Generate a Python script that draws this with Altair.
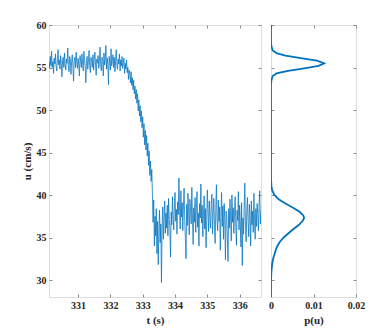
import altair as alt
import pandas as pd

# ---- data ----
t_start = 330.10
t_step = 0.02
u_series = [
    # 330.10 - 330.58
    55.8, 54.9, 56.3, 55.2, 56.9, 55.0, 55.7, 54.3, 56.1, 55.4, 56.6, 55.1, 54.6, 56.0, 57.1, 55.3, 55.9, 54.8, 56.4, 55.6, 53.9, 55.8, 56.2, 55.0, 56.7,
    # 330.60 - 331.08
    55.4, 54.7, 56.0, 55.5, 57.3, 55.2, 54.5, 56.3, 55.9, 54.2, 55.7, 56.5, 55.1, 53.4, 55.8, 56.2, 55.0, 56.8, 55.6, 54.9, 56.1, 55.3, 54.0, 56.4, 55.7,
    # 331.10 - 331.58
    55.0, 56.6, 55.4, 54.6, 56.9, 55.8, 55.1, 53.2, 55.9, 56.3, 54.8, 55.6, 57.0, 55.2, 54.4, 56.2, 55.7, 55.0, 56.5, 54.7, 55.9, 56.8, 55.3, 54.1, 56.0,
    # 331.60 - 332.08
    55.5, 56.4, 54.9, 55.8, 57.4, 55.1, 54.6, 56.2, 55.7, 54.0, 56.7, 55.3, 55.9, 57.6, 54.8, 56.1, 55.4, 53.0, 56.3, 55.6, 54.7, 57.2, 55.2, 55.8, 56.5,
    # 332.10 - 332.58
    55.0, 56.2, 54.5, 55.7, 57.1, 55.3, 54.8, 56.0, 55.4, 56.6, 54.6, 55.9, 55.2, 56.3, 54.9, 55.6, 56.1, 54.3, 55.5, 54.8, 55.9, 54.4, 55.0, 53.6, 54.7,
    # 332.60 - 333.08
    54.3, 53.2, 54.5, 52.9, 53.8, 52.4, 53.5, 51.9, 52.8, 51.3, 52.4, 50.8, 51.9, 49.9, 51.2, 49.3, 50.5, 48.6, 49.9, 47.9, 49.2, 46.8, 48.4, 45.9, 47.6,
    # 333.10 - 333.58
    45.3, 47.0, 44.6, 46.1, 43.5, 45.2, 42.3, 44.0, 41.6, 43.0, 40.1, 36.8, 39.4, 34.0, 37.5, 35.2, 38.4, 33.1, 36.9, 31.8, 35.7, 38.2, 34.4, 36.6, 29.7,
    # 333.60 - 334.08
    36.4, 38.6, 34.8, 37.2, 39.3, 35.5, 37.9, 36.1, 38.8, 35.2, 39.6, 37.1, 36.3, 32.7, 38.0, 36.5, 39.8, 37.5, 35.9, 38.7, 40.3, 36.9, 38.3, 35.4, 39.2,
    # 334.10 - 334.58
    37.7, 42.0, 38.2, 36.0, 40.5, 37.4, 39.1, 35.8, 38.6, 40.8, 37.0, 34.9, 32.5, 38.9, 36.4, 40.2, 37.8, 35.3, 39.5, 38.1, 36.6, 40.9, 37.2, 34.2, 38.5,
    # 334.60 - 335.08
    36.8, 39.7, 35.6, 38.3, 40.4, 36.2, 37.9, 34.0, 39.0, 37.3, 41.3, 36.7, 38.8, 35.1, 37.6, 39.9, 36.0, 38.4, 33.8, 37.1, 40.6, 38.0, 35.7, 39.3, 37.4,
    # 335.10 - 335.58
    36.1, 38.9, 40.1, 35.4, 37.8, 39.6, 36.5, 34.3, 38.2, 41.2, 37.0, 35.8, 39.4, 36.9, 38.6, 33.5, 37.5, 40.3, 36.3, 38.7, 34.8, 39.0, 37.2, 32.4, 38.1,
    # 335.60 - 336.08
    37.6, 35.0, 32.2, 38.4, 36.1, 39.5, 37.3, 34.6, 40.0, 36.8, 38.5, 35.5, 37.9, 39.8, 36.4, 34.1, 38.2, 37.0, 40.4, 35.9, 38.8, 36.6, 33.9, 39.1, 31.7,
    # 336.10 - 336.66
    37.3, 35.4, 38.6, 41.4, 36.2, 34.5, 38.0, 39.7, 36.9, 35.1, 38.9, 37.4, 34.0, 39.3, 36.5, 38.1, 35.6, 40.2, 37.0, 34.8, 38.4, 36.3, 39.0, 37.7, 35.8, 38.8, 40.5, 36.6, 38.2,
]

pdf_u = [28.0, 30.0, 31.0, 32.0, 32.5, 33.0, 33.5, 34.0, 34.5, 35.0, 35.5, 36.0, 36.5, 37.0, 37.3,
         37.6, 38.0, 38.5, 39.0, 39.5, 40.0, 40.5, 41.0, 42.0, 50.0, 53.0, 53.5, 54.0, 54.3, 54.6,
         54.9, 55.2, 55.5, 55.8, 56.1, 56.4, 56.7, 57.0, 57.5, 58.0, 60.0]
pdf_p = [0.0000, 0.0000, 0.0001, 0.0003, 0.0005, 0.0008, 0.0011, 0.0015, 0.0021, 0.0030, 0.0041, 0.0053, 0.0066, 0.0075, 0.0078,
         0.0076, 0.0068, 0.0052, 0.0034, 0.0018, 0.0008, 0.0003, 0.0001, 0.0000, 0.0000, 0.0000, 0.0001, 0.0004, 0.0013, 0.0040,
         0.0078, 0.0112, 0.0125, 0.0108, 0.0070, 0.0034, 0.0013, 0.0004, 0.0001, 0.0000, 0.0000]

t_ticks = [331, 332, 333, 334, 335, 336]
u_ticks = [30, 35, 40, 45, 50, 55, 60]
p_ticks = [0, 0.01, 0.02]

t_values = [round(t_start + i * t_step, 2) for i in range(len(u_series))]
ts = pd.DataFrame({"t": t_values, "u": u_series})
pdf = pd.DataFrame({"u": pdf_u, "p": pdf_p})

FONT = "Times New Roman, Liberation Serif, serif"
BLUE = "#0072BD"
GRAY = "#8c8c8c"
TXT = "#262626"
TICK_IN = {"expr": "-3"}


def ax(orient, values, title=None, labels=True, fmt=None):
    kw = dict(
        orient=orient, values=values, labels=labels, domain=False,
        ticks=True, tickSize=TICK_IN, tickColor=GRAY, tickWidth=1,
        grid=False, labelFont=FONT, labelFontWeight="bold", labelFontSize=10,
        labelColor=TXT, labelPadding=6, labelFlush=False, labelOverlap=False,
        titleFont=FONT, titleFontWeight="bold",
        titleFontSize=11, titleColor=TXT,
    )
    if fmt is not None:
        kw["format"] = fmt
    kw["title"] = title if title is not None else None
    return alt.Axis(**kw)


xs = alt.Scale(domain=[330.1, 336.66], nice=False, zero=False)
ys = alt.Scale(domain=[28, 60], nice=False, zero=False)
ps = alt.Scale(domain=[0, 0.02], nice=False, zero=False)

main = alt.Chart(ts).mark_line(color=BLUE, strokeWidth=0.75, clip=True).encode(
    x=alt.X("t:Q", scale=xs, axis=ax("bottom", t_ticks, "t (s)", fmt="d")),
    y=alt.Y("u:Q", scale=ys, axis=ax("left", u_ticks, "u (cm/s)", fmt="d")),
    order=alt.Order("t:Q"),
)
mirror = alt.Chart(ts).mark_line(opacity=0).encode(
    x=alt.X("t:Q", scale=xs, axis=ax("top", t_ticks, labels=False)),
    y=alt.Y("u:Q", scale=ys, axis=ax("right", u_ticks, labels=False)),
)
left = alt.layer(main, mirror).resolve_axis(x="independent", y="independent").properties(
    width=212, height=272
)

pline = alt.Chart(pdf).mark_line(color=BLUE, strokeWidth=1.8, clip=True).encode(
    x=alt.X("p:Q", scale=ps, axis=ax("bottom", p_ticks, "p(u)", fmt="~g")),
    y=alt.Y("u:Q", scale=ys, axis=ax("left", u_ticks, labels=False)),
    order=alt.Order("u:Q"),
)
pmirror = alt.Chart(pdf).mark_line(opacity=0).encode(
    x=alt.X("p:Q", scale=ps, axis=ax("top", p_ticks, labels=False)),
    y=alt.Y("u:Q", scale=ys, axis=ax("right", u_ticks, labels=False)),
)
right = alt.layer(pline, pmirror).resolve_axis(x="independent", y="independent").properties(
    width=85, height=272
)

chart = alt.hconcat(left, right, spacing=6).properties(
    padding={"left": 12, "top": 11, "right": 5, "bottom": 5}
).configure_view(stroke=GRAY, strokeWidth=1).configure(background="white")

chart.save("out.html", embed_options={"renderer": "svg", "actions": False})
